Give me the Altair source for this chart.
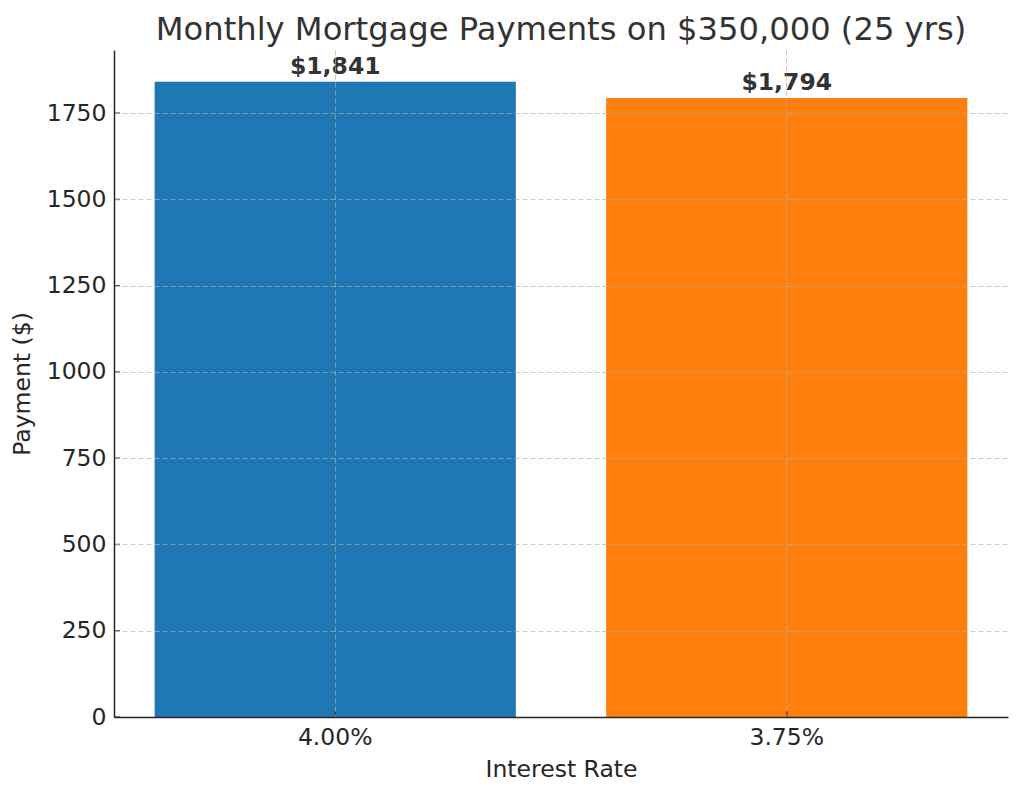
import altair as alt
import pandas as pd

rates = ["4.00%", "3.75%"]
payments = [1841, 1794]
labels = ["$1,841", "$1,794"]
colors = ["#1f77b4", "#ff7f0e"]
y_ticks = [0, 250, 500, 750, 1000, 1250, 1500, 1750]

df = pd.DataFrame({"rate": rates, "payment": payments, "label": labels, "color": colors})
ticks_df = pd.DataFrame({"v": y_ticks})

W, H = 894, 667
FONT = "DejaVu Sans"

xscale = alt.Scale(domain=rates, paddingInner=0.2, paddingOuter=0.09)
yscale = alt.Scale(domain=[0, 1933], nice=False, zero=True)

xaxis = alt.Axis(title="Interest Rate", labelAngle=0, ticks=False, tickSize=0,
                 labelPadding=8, titlePadding=9, grid=True, zindex=1)
yaxis = alt.Axis(title="Payment ($)", values=y_ticks, format="d", ticks=False, tickSize=0,
                 labelPadding=8, titlePadding=12, grid=True, zindex=1)

bars = alt.Chart(df).mark_bar().encode(
    x=alt.X("rate:N", scale=xscale, axis=xaxis, sort=rates),
    y=alt.Y("payment:Q", scale=yscale, axis=yaxis),
    color=alt.Color("color:N", scale=None),
)

text = alt.Chart(df).mark_text(
    baseline="bottom", dy=-3, font=FONT, fontSize=23.5, fontWeight="bold", color="#333333"
).encode(
    x=alt.X("rate:N", scale=xscale, sort=rates),
    y=alt.Y("payment:Q", scale=yscale),
    text="label:N",
)

yticks = alt.Chart(ticks_df).mark_tick(
    orient="horizontal", size=6, thickness=1.5, color="#262626"
).encode(
    y=alt.Y("v:Q", scale=yscale),
    x=alt.value(3),
)

xticks = alt.Chart(df).mark_tick(
    orient="vertical", size=6, thickness=1.5, color="#262626"
).encode(
    x=alt.X("rate:N", scale=xscale, sort=rates),
    y=alt.value(H - 3),
)

chart = alt.layer(bars, text, yticks, xticks).properties(
    width=W, height=H,
    title=alt.TitleParams("Monthly Mortgage Payments on $350,000 (25 yrs)",
                          font=FONT, fontSize=32.2, fontWeight="normal",
                          color="#333333", anchor="middle", offset=3),
    autosize=alt.AutoSizeParams(type="none"),
    padding={"left": 106, "top": 42, "right": 8, "bottom": 72},
).configure_view(stroke=None).configure_axis(
    labelFont=FONT, titleFont=FONT, labelFontSize=23.5, titleFontSize=23.5,
    labelColor="#262626", titleColor="#262626", titleFontWeight="normal",
    domainColor="#262626", domainWidth=1.5,
    gridColor="#b0b0b0", gridOpacity=0.7, gridDash=[5, 3], gridWidth=1,
).configure_axisX(domain=True).configure_axisY(domain=True)

chart.save("out.html", embed_options={"renderer": "svg", "actions": False})
